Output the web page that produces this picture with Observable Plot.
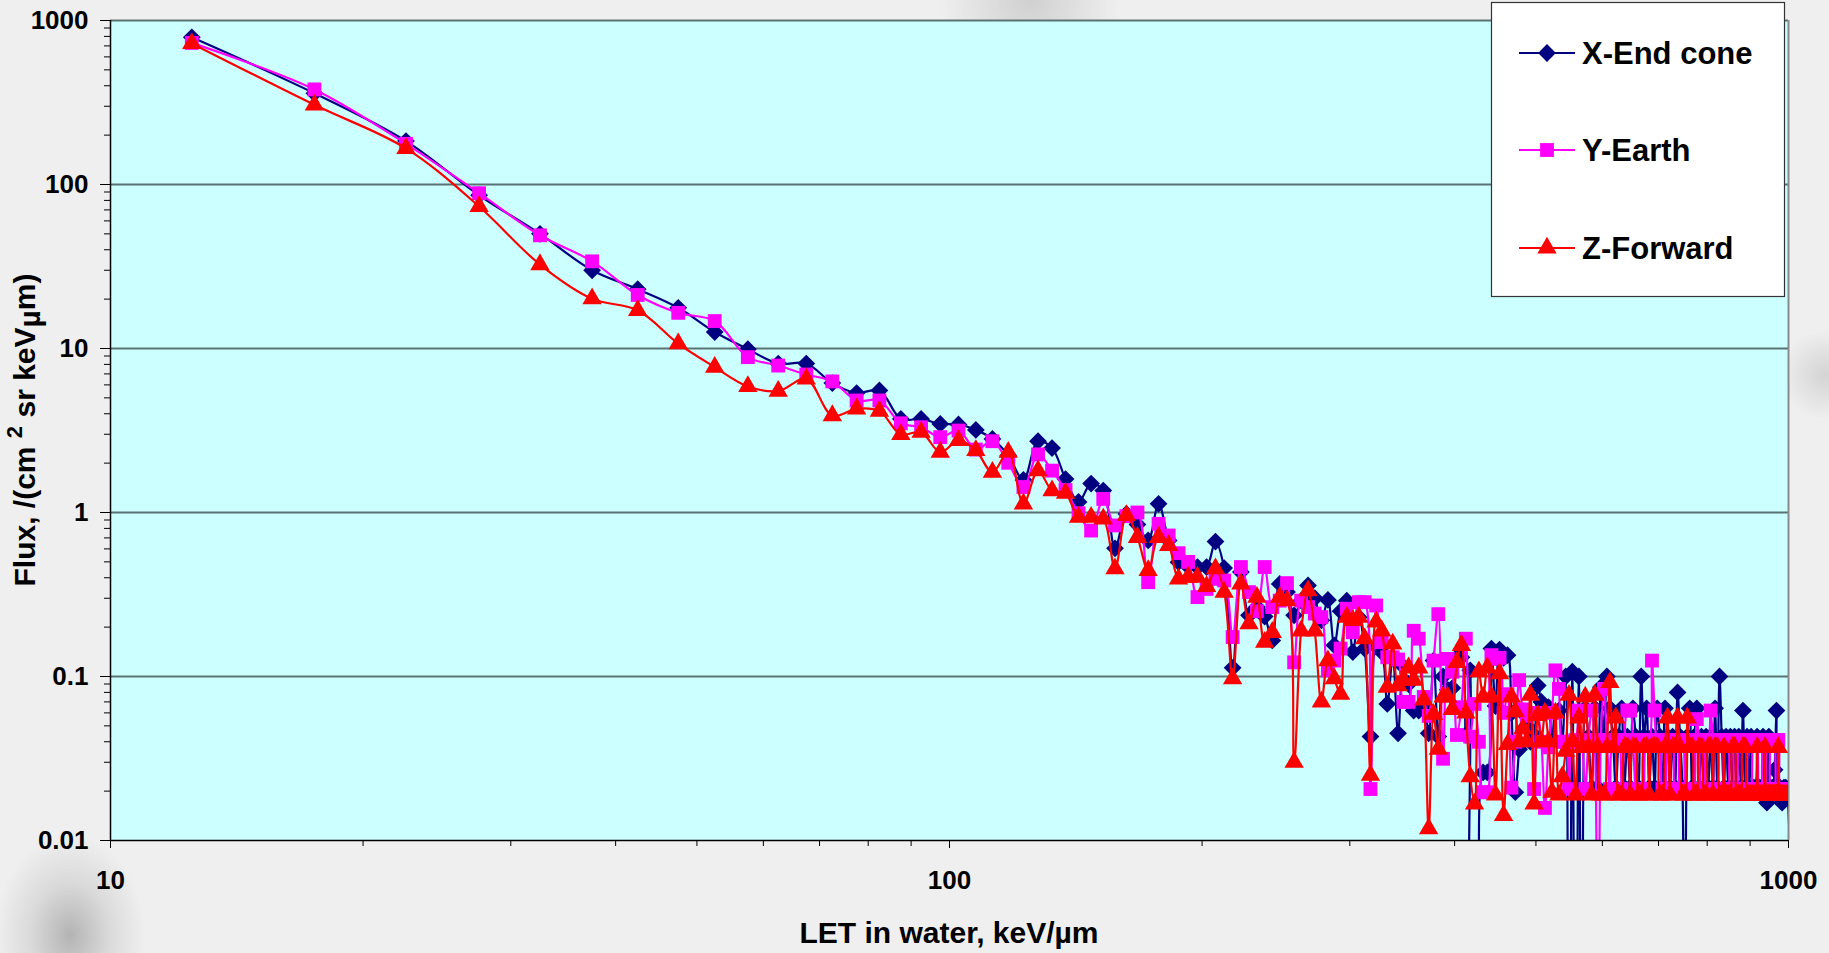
<!DOCTYPE html>
<html><head><meta charset="utf-8">
<script src="https://cdn.jsdelivr.net/npm/d3@7"></script>
<script src="https://cdn.jsdelivr.net/npm/@observablehq/plot@0.6"></script>
<style>
html,body{margin:0;padding:0;}
body{width:1829px;height:953px;overflow:hidden;position:relative;font-family:Arial,"Liberation Sans",sans-serif;
background:
 radial-gradient(ellipse 60px 80px at 70px 935px, rgba(140,140,140,0.6) 0px, rgba(170,170,170,0.3) 40px, rgba(239,239,239,0) 75px),
 radial-gradient(circle at 1030px 0px, rgba(170,170,170,0.45) 0px, rgba(239,239,239,0) 90px),
 radial-gradient(circle at 1825px 375px, rgba(170,170,170,0.4) 0px, rgba(239,239,239,0) 45px),
 #efefef;}
#chart{position:absolute;left:0;top:0;}
</style></head><body>
<div id="chart"></div>
<script>
// LET bin centres (keV/µm)
const letBins = [
12.5,17.5,22.5,27.5,32.5,37.5,42.5,47.5,52.5,57.5,
62.5,67.5,72.5,77.5,82.5,87.5,92.5,97.5,102.5,107.5,
112.5,117.5,122.5,127.5,132.5,137.5,142.5,147.5,152.5,157.5,
162.5,167.5,172.5,177.5,182.5,187.5,192.5,197.5,202.5,207.5,
212.5,217.5,222.5,227.5,232.5,237.5,242.5,247.5,252.5,257.5,
262.5,267.5,272.5,277.5,282.5,287.5,292.5,297.5,302.5,307.5,
312.5,317.5,322.5,327.5,332.5,337.5,342.5,347.5,352.5,357.5,
362.5,367.5,372.5,377.5,382.5,387.5,392.5,397.5,402.5,407.5,
412.5,417.5,422.5,427.5,432.5,437.5,442.5,447.5,452.5,457.5,
462.5,467.5,472.5,477.5,482.5,487.5,492.5,497.5,502.5,507.5,
512.5,517.5,522.5,527.5,532.5,537.5,542.5,547.5,552.5,557.5,
562.5,567.5,572.5,577.5,582.5,587.5,592.5,597.5,602.5,607.5,
612.5,617.5,622.5,627.5,632.5,637.5,642.5,647.5,652.5,657.5,
662.5,667.5,672.5,677.5,682.5,687.5,692.5,697.5,702.5,707.5,
712.5,717.5,722.5,727.5,732.5,737.5,742.5,747.5,752.5,757.5,
762.5,767.5,772.5,777.5,782.5,787.5,792.5,797.5,802.5,807.5,
812.5,817.5,822.5,827.5,832.5,837.5,842.5,847.5,852.5,857.5,
862.5,867.5,872.5,877.5,882.5,887.5,892.5,897.5,902.5,907.5,
912.5,917.5,922.5,927.5,932.5,937.5,942.5,947.5,952.5,957.5,
962.5,967.5,972.5,977.5,982.5,987.5,992.5,997.5];

// X-End cone flux
const fluxX = [
790,360,184,86,50,30,23,17.7,12.6,9.9,
8.1,8.1,6.15,5.35,5.55,3.72,3.72,3.47,3.44,3.19,
2.81,2.23,1.58,2.72,2.47,1.6,1.16,1.5,1.36,0.605,
0.98,0.845,0.675,1.13,0.675,0.498,0.469,0.465,0.465,0.665,
0.458,0.113,0.433,0.236,0.265,0.232,0.166,0.367,0.327,0.236,
0.29,0.359,0.3,0.22,0.293,0.155,0.25,0.29,0.141,0.23,
0.148,0.043,0.152,0.141,0.068,0.13,0.045,0.115,0.09,0.062,
0.062,0.065,0.045,0.125,0.043,0.1,0.083,0.085,0.131,0.131,
0.044,0.109,0,0,0.026,0.026,0.148,0.066,0.146,0.13,
0.135,0.06,0.0197,0.036,0.06,0.05,0.04,0.044,0.088,0.07,
0.06,0.065,0.04,0.06,0.062,0.04,0.1,0,0.107,0,
0.1,0,0.064,0.043,0.021,0.064,0.021,0.086,0.043,0.1,
0.064,0.043,0.021,0.043,0.064,0.021,0.043,0.021,0.064,0.043,
0.021,0.1,0.043,0.064,0.021,0.043,0.021,0.064,0.043,0.021,
0.064,0.043,0.021,0.043,0.021,0.08,0.043,0.021,0,0.043,
0.064,0.021,0.043,0.064,0.021,0.043,0.021,0.043,0.021,0.043,
0.021,0.064,0.021,0.1,0.043,0.021,0.043,0.021,0.043,0.021,
0.043,0.021,0.043,0.021,0.062,0.021,0.043,0.021,0.043,0.021,
0.021,0.043,0.021,0.021,0.043,0.021,0.017,0.043,0.021,0.021,
0.027,0.062,0.021,0.021,0.017,0.021,0.021,0];

// Y-Earth flux
const fluxY = [
730,380,177,88.5,49,34,21.2,16.5,14.7,8.86,
7.87,6.94,6.3,4.82,4.82,3.5,3.31,2.88,3.16,2.42,
2.72,2.01,1.43,2.26,1.8,1.37,0.99,0.776,1.21,0.834,
0.95,1.0,0.376,0.853,0.724,0.565,0.5,0.305,0.342,0.394,
0.385,0.174,0.465,0.327,0.25,0.465,0.265,0.29,0.371,0.122,
0.29,0.265,0.242,0.23,0.109,0.125,0.148,0.259,0.186,0.284,
0.284,0.0206,0.271,0.162,0.131,0.131,0.127,0.07,0.07,0.19,
0.17,0.075,0.0575,0.125,0.24,0.0315,0.128,0.107,0.044,0.065,
0.17,0.043,0.068,0.04,0.0197,0.0197,0.135,0.128,0.13,0.06,
0.078,0.021,0.04,0.095,0.063,0.0575,0.06,0.0206,0.06,0.04,
0.0158,0.037,0.06,0.109,0.084,0.04,0.04,0.0206,0.04,0.041,
0.062,0.041,0.0206,0.041,0.062,0.041,0,0.041,0.084,0.041,
0.0206,0.041,0.041,0.041,0.0206,0.041,0.062,0.062,0.041,0.0206,
0.041,0.041,0.0206,0.041,0.041,0.125,0.062,0.041,0.041,0.0206,
0.0206,0.041,0.041,0.041,0.0206,0.0206,0.041,0.041,0.0206,0.041,
0.041,0.041,0.0206,0.055,0.041,0.0206,0.0206,0.041,0.041,0.062,
0.041,0.0206,0.0206,0.041,0.041,0.0206,0.041,0.041,0.0206,0.0206,
0.041,0.041,0.0206,0.0206,0.041,0.041,0.0206,0.041,0.041,0.0206,
0.0206,0.0206,0.041,0.041,0.0206,0.0206,0.041,0.041,0.0206,0.0206,
0.0206,0.041,0.041,0.0206,0.0206,0.0206,0.0206,0.0206];

// Z-Forward flux
const fluxZ = [
725,306,166,73.4,32.5,20.1,17.1,10.7,7.7,5.87,
5.5,6.53,3.9,4.29,4.15,2.99,3.09,2.33,2.75,2.39,
1.76,2.33,1.13,1.8,1.36,1.31,0.936,0.936,0.914,0.454,
0.96,0.706,0.443,0.706,0.63,0.394,0.404,0.404,0.354,0.454,
0.327,0.097,0.367,0.21,0.305,0.162,0.186,0.305,0.29,0.03,
0.19,0.334,0.19,0.07,0.125,0.097,0.078,0.23,0.22,0.23,
0.17,0.025,0.215,0.19,0.086,0.158,0.088,0.095,0.113,0.095,
0.113,0.072,0.0118,0.059,0.036,0.075,0.075,0.063,0.122,0.155,
0.06,0.0245,0.0167,0.107,0.075,0.113,0.075,0.019,0.104,0.0142,
0.0385,0.075,0.061,0.04,0.048,0.04,0.077,0.0167,0.058,0.04,
0.06,0.04,0.0197,0.06,0.019,0.0245,0.035,0.077,0.04,0.019,
0.056,0.037,0.075,0.037,0.019,0.077,0.037,0.019,0.019,0.037,
0.092,0.037,0.056,0.019,0.019,0.037,0.037,0.019,0.037,0.037,
0.019,0.019,0.037,0.037,0.019,0.037,0.037,0.037,0.019,0.019,
0.037,0.056,0.019,0.037,0.037,0.056,0.037,0.019,0.019,0.056,
0.037,0.037,0.019,0.019,0.037,0.037,0.019,0.019,0.037,0.037,
0.019,0.037,0.037,0.019,0.019,0.037,0.019,0.019,0.019,0.037,
0.037,0.019,0.019,0.019,0.037,0.037,0.019,0.019,0.019,0.019,
0.019,0.037,0.019,0.019,0.019,0.037,0.019,0.019,0.019,0.019,
0.019,0.019,0.037,0.019,0.019,0.019,0.019,0.019];

const seriesNames = ["X-End cone","Y-Earth","Z-Forward"];
const seriesColors = ["#000080","#ff00ff","#ff0000"];
const seriesSymbols = ["diamond2","square","triangle"];
const seriesR = [8,7.8,7.2];
const seriesValues = [fluxX, fluxY, fluxZ];

const yTicks = [0.01,0.1,1,10,100,1000];
const yTickLabels = ["0.01","0.1","1","10","100","1000"];
const xTicks = [10,100,1000];
const xTickLabels = ["10","100","1000"];
const xTitle = "LET in water, keV/µm";

const FONT = 'Arial, "Liberation Sans", sans-serif';
const yMinor = [];
for (const d of [0.01,0.1,1,10,100]) for (let k=2;k<=9;k++) yMinor.push(+(k*d).toPrecision(3));
const xMinor = [];
for (const d of [10,100]) for (let k=2;k<=9;k++) xMinor.push(k*d);

const FLOOR = 1e-4; // zero counts fall off the bottom of the log axis
const seriesMarks = [];
seriesValues.forEach((vals, s) => {
  const rows = letBins.map((x, i) => ({let: x, flux: vals[i]}));
  const yv = d => d.flux > 0 ? d.flux : FLOOR;
  seriesMarks.push(Plot.line(rows, {x: "let", y: yv, stroke: seriesColors[s], strokeWidth: 2.2, curve: "catmull-rom", clip: true}));
  seriesMarks.push(Plot.dot(rows, {x: "let", y: yv, symbol: seriesSymbols[s], r: seriesR[s], fill: seriesColors[s], stroke: "none", clip: true}));
});

const chart = Plot.plot({
  width: 1829, height: 953,
  marginLeft: 110, marginRight: 41, marginTop: 20, marginBottom: 113,
  style: {background: "transparent", fontFamily: FONT, fontSize: "26px", fontWeight: "bold", color: "#000", overflow: "visible"},
  x: {type: "log", domain: [10, 1000]},
  y: {type: "log", domain: [0.01, 1000]},
  marks: [
    Plot.frame({fill: "#ccffff", stroke: null}),
    Plot.ruleY([0.1,1,10,100,1000], {stroke: "#5b7272", strokeWidth: 2}),
    Plot.ruleX([1000], {stroke: "#8a8a8a", strokeWidth: 2}),
    ...seriesMarks,
    Plot.axisY(yMinor, {tickSize: 6, tickFormat: () => "", stroke: "#000", label: null}),
    Plot.axisY(yTicks, {tickSize: 10, tickPadding: 12, tickFormat: d => yTickLabels[yTicks.indexOf(d)], fontSize: 26, fontWeight: "bold", fill: "#000", stroke: "#000", label: null}),
    Plot.axisX(xMinor, {tickSize: 6, tickFormat: () => "", stroke: "#000", label: null}),
    Plot.axisX(xTicks, {tickSize: 8, tickPadding: 22, tickFormat: d => xTickLabels[xTicks.indexOf(d)], fontSize: 26, fontWeight: "bold", fill: "#000", stroke: "#000", label: null}),
    Plot.ruleX([10], {stroke: "#000", strokeWidth: 1.5}),
    Plot.ruleY([0.01], {stroke: "#000", strokeWidth: 1.5})
  ]
});
document.getElementById("chart").appendChild(chart);

const svg = d3.select(chart);
// axis titles
svg.append("text")
  .attr("x", 949).attr("y", 932)
  .attr("text-anchor", "middle").attr("dominant-baseline", "central")
  .attr("font-family", FONT).attr("font-size", 30).attr("font-weight", "bold").attr("fill", "#000")
  .text(xTitle);

const yt = svg.append("text")
  .attr("transform", "translate(24,430) rotate(-90)")
  .attr("text-anchor", "middle").attr("dominant-baseline", "central")
  .attr("font-family", FONT).attr("font-size", 30).attr("font-weight", "bold").attr("fill", "#000");
yt.append("tspan").text("Flux, /(cm ");
yt.append("tspan").attr("font-size", 22).attr("dy", -10).text("2");
yt.append("tspan").attr("dy", 10).text(" sr keV");
yt.append("tspan").attr("dy", 5).text("µ");
yt.append("tspan").attr("dy", -5).text("m)");

// legend
const lg = svg.append("g");
lg.append("rect").attr("x", 1491.5).attr("y", 2.5).attr("width", 293).attr("height", 294)
  .attr("fill", "#fff").attr("stroke", "#333").attr("stroke-width", 1.2);
const legendY = [53, 150, 248];
const symMap = {diamond2: d3.symbolDiamond2, square: d3.symbolSquare, triangle: d3.symbolTriangle};
seriesNames.forEach((name, i) => {
  const y = legendY[i];
  lg.append("line").attr("x1", 1519).attr("x2", 1575).attr("y1", y).attr("y2", y)
    .attr("stroke", seriesColors[i]).attr("stroke-width", 2);
  const sz = Math.PI * seriesR[i] * seriesR[i];
  lg.append("path").attr("transform", `translate(1547,${y})`)
    .attr("d", d3.symbol(symMap[seriesSymbols[i]], sz)()).attr("fill", seriesColors[i]);
  lg.append("text").attr("x", 1582).attr("y", y).attr("text-anchor", "start").attr("dominant-baseline", "central")
    .attr("font-family", FONT).attr("font-size", 31).attr("font-weight", "bold").attr("fill", "#000")
    .text(name);
});
</script>
</body></html>
